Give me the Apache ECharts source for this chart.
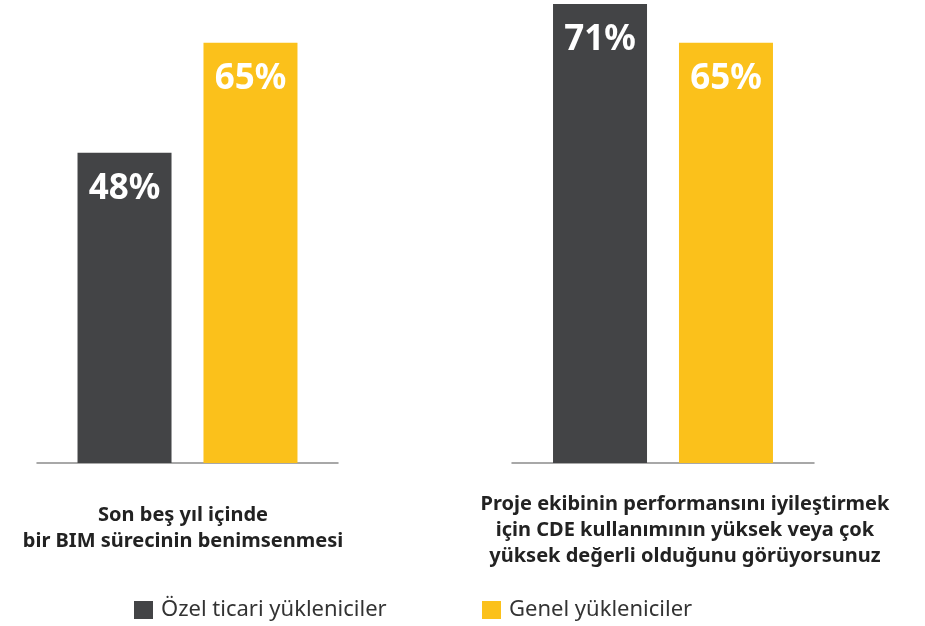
<!DOCTYPE html>
<html>
<head>
<meta charset="utf-8">
<script src="https://cdn.jsdelivr.net/npm/echarts@6/dist/echarts.min.js"></script>
<style>
  html, body { margin: 0; padding: 0; background: #fff; }
  #chart { width: 925px; height: 626px; }
</style>
</head>
<body>
<div id="chart"></div>
<script>
  // veriler
  var categories = [
    'Son beş yıl içinde\nbir BIM sürecinin benimsenmesi',
    'Proje ekibinin performansını iyileştirmek\niçin CDE kullanımının yüksek veya çok\nyüksek değerli olduğunu görüyorsunuz'
  ];
  var seriesNames = ['Özel ticari yükleniciler', 'Genel yükleniciler'];
  var ozelValues = [48, 71];
  var genelValues = [65, 65];
  var colors = ['#434446', '#fbc11b'];

  var chart = echarts.init(document.getElementById('chart'));
  var yMax = Math.max.apply(null, ozelValues.concat(genelValues));
  var font = '"Noto Sans", sans-serif';

  var grids = [
    { left: 37, width: 301, top: 4, bottom: 163 },
    { left: 512, width: 302, top: 4, bottom: 163 }
  ];

  var xAxes = [], yAxes = [], series = [];
  categories.forEach(function (cat, i) {
    xAxes.push({
      type: 'category',
      gridIndex: i,
      data: [cat],
      axisLine: { lineStyle: { color: '#8c8c8c', width: 1.5 } },
      axisTick: { show: false },
      axisLabel: {
        margin: i === 1 ? 67 : 65,
        verticalAlign: 'middle',
        color: '#222',
        fontSize: 20,
        fontWeight: 'bold',
        fontFamily: font,
        lineHeight: 26,
        align: 'center',
        padding: i === 1 ? [0, 0, 0, 44] : [0, 9, 0, 0]
      }
    });
    yAxes.push({
      type: 'value',
      gridIndex: i,
      min: 0,
      max: yMax,
      show: false,
      splitLine: { show: false }
    });
    [ozelValues, genelValues].forEach(function (vals, s) {
      series.push({
        name: seriesNames[s],
        type: 'bar',
        xAxisIndex: i,
        yAxisIndex: i,
        barWidth: 94,
        barGap: '34%',
        itemStyle: { color: colors[s] },
        label: {
          show: true,
          position: 'insideTop',
          distance: 19,
          formatter: '{c}%',
          color: '#fff',
          fontSize: 35,
          fontWeight: 'bold',
          fontFamily: font
        },
        data: [vals[i]]
      });
    });
  });

  var legendBase = {
    top: 594,
    itemWidth: 19,
    itemHeight: 18,
    icon: 'rect',
    textStyle: { color: '#333', fontSize: 22, fontFamily: font, padding: [0, 0, 0, 3] }
  };

  chart.setOption({
    animation: false,
    color: colors,
    legend: [
      Object.assign({}, legendBase, { data: [seriesNames[0]], left: 129 }),
      Object.assign({}, legendBase, { data: [seriesNames[1]], left: 477 })
    ],
    grid: grids,
    xAxis: xAxes,
    yAxis: yAxes,
    series: series
  });
</script>
</body>
</html>
